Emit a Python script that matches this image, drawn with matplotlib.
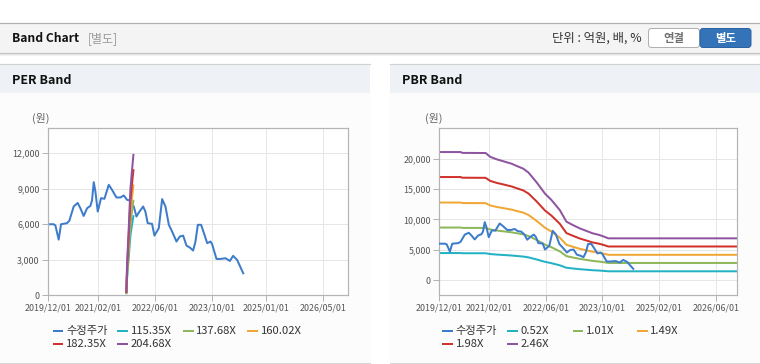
import matplotlib
matplotlib.use("Agg")
import matplotlib.pyplot as plt
import matplotlib.dates as mdates
from matplotlib.patches import Rectangle, FancyBboxPatch
from matplotlib.ticker import FuncFormatter, FixedLocator
import pandas as pd

plt.rcParams['font.family'] = ['Noto Sans CJK KR', 'DejaVu Sans']

# ---------------- data ----------------
price_dates = ['2019-12-01','2020-01-18','2020-02-02','2020-03-01','2020-03-21','2020-05-11','2020-05-31',
               '2020-07-07','2020-08-10','2020-09-02','2020-09-30','2020-10-29','2020-11-26','2020-12-10',
               '2020-12-25','2021-01-08','2021-01-28','2021-02-25','2021-03-26','2021-05-02','2021-05-30',
               '2021-07-06','2021-08-09','2021-09-07','2021-10-05','2021-11-02','2021-12-01','2021-12-24',
               '2022-01-13','2022-02-19','2022-03-10','2022-03-30','2022-05-06','2022-05-26','2022-07-02',
               '2022-07-31','2022-08-28','2022-09-26','2022-10-24','2022-11-30','2022-12-28','2023-01-26',
               '2023-02-23','2023-03-24','2023-04-21','2023-05-11','2023-05-31','2023-06-28','2023-07-27',
               '2023-08-19','2023-09-16','2023-09-30','2023-11-06','2023-12-10','2024-01-22','2024-02-28',
               '2024-03-27','2024-04-30','2024-06-21']
price = [6000,6000,5900,4700,6000,6090,6300,7500,7800,7350,6700,7350,7550,8000,9550,8760,7070,8200,8150,
         9330,8900,8260,8260,8430,8060,8000,7500,6650,6990,7500,7070,6090,6030,5040,5660,8120,7500,5950,
         5380,4540,4960,5040,4200,4030,3780,4540,5950,5950,5100,4400,4540,4310,3070,3070,3130,2900,3330,
         2990,1860]

# PER band (only a short period)
per_band_dates = ['2021-09-29','2021-10-04','2021-10-12','2021-10-21','2021-11-02','2021-11-15','2021-11-28']
per_115 = [175, 1285, 2350, 3432, 5016, 5889, 6684]
per_137 = [209, 1534, 2805, 4097, 5987, 7029, 7978]
per_160 = [242, 1782, 3260, 4761, 6958, 8170, 9272]
per_182 = [276, 2031, 3715, 5426, 7929, 9310, 10566]
per_204 = [310, 2280, 4170, 6090, 8900, 10450, 11860]
per_labels = ['수정주가', '115.35X', '137.68X', '160.02X', '182.35X', '204.68X']

# PBR band
pbr_band_dates = ['2019-12-01','2020-06-01','2020-06-15','2021-01-01','2021-02-10','2021-04-05','2021-06-05',
                  '2021-08-15','2021-09-25','2021-11-20','2022-01-05','2022-03-15','2022-05-25','2022-07-20',
                  '2022-09-30','2022-11-26','2023-01-20','2023-03-20','2023-07-10','2023-09-05','2023-10-15',
                  '2023-11-20','2026-12-01']
pbr_052 = [4458,4458,4428,4424,4291,4207,4135,4048,3974,3881,3741,3403,3014,2790,2437,2033,1917,1801,1628,
           1571,1514,1454,1454]
pbr_101 = [8659,8659,8601,8593,8335,8170,8031,7862,7719,7538,7267,6610,5855,5420,4734,3950,3724,3498,3161,
           3051,2940,2825,2825]
pbr_149 = [12774,12774,12689,12677,12296,12053,11847,11599,11387,11120,10721,9752,8637,7995,6984,5827,5494,
           5160,4664,4500,4337,4167,4167]
pbr_198 = [16975,16975,16862,16846,16339,16017,15743,15413,15132,14778,14246,12959,11478,10624,9280,7743,
           7300,6858,6198,5980,5763,5538,5538]
pbr_246 = [21090,21090,20950,20930,20300,19900,19560,19150,18800,18360,17700,16100,14260,13200,11530,9620,
           9070,8520,7700,7430,7160,6880,6880]
pbr_labels = ['수정주가', '0.52X', '1.01X', '1.49X', '1.98X', '2.46X']

per_xticks = ['2019-12-01','2021-02-01','2022-06-01','2023-10-01','2025-01-01','2026-05-01']
pbr_xticks = ['2019-12-01','2021-02-01','2022-06-01','2023-10-01','2025-02-01','2026-06-01']
per_yticks = [0, 3000, 6000, 9000, 12000]
pbr_yticks = [0, 5000, 10000, 15000, 20000]

colors = ['#3d7ccb', '#22b2c4', '#8db85a', '#f0a733', '#d0322b', '#8f54a0']

# ---------------- figure ----------------
W, H = 760, 364
fig = plt.figure(figsize=(W/100, H/100), dpi=100)
fig.patch.set_facecolor('white')

bg = fig.add_axes([0, 0, 1, 1], zorder=-10)
bg.set_xlim(0, W); bg.set_ylim(H, 0); bg.axis('off')

PX = 0.72  # points per pixel

# top header bar
bg.add_patch(Rectangle((0, 22.5), W, 30.5, fc='#f4f4f4', ec='none'))
bg.plot([0, W], [22.5, 22.5], color='#b0b0b0', lw=1.2*PX)
bg.plot([0, W], [53, 53], color='#c4c4c4', lw=1.2*PX)
bg.plot([0, W], [54.2, 54.2], color='#e4e4e4', lw=1*PX)
bg.plot([0, W], [55.2, 55.2], color='#f2f2f2', lw=1*PX)
bg.text(12, 38.5, 'Band Chart', fontsize=8.7, fontweight='bold', color='#111111', va='center', ha='left')
bg.text(88, 38.5, '[별도]', fontsize=8.6, color='#9a9a9a', va='center', ha='left')
bg.text(642, 38.5, '단위 : 억원, 배, %', fontsize=8.9, color='#333333', va='center', ha='right')
bg.add_patch(FancyBboxPatch((648.5, 28.5), 51, 19, boxstyle='round,pad=0,rounding_size=3',
                            fc='white', ec='#b0b0b0', lw=1*PX))
bg.text(674, 38.5, '연결', fontsize=8.2, fontweight='bold', color='#707070', va='center', ha='center')
bg.add_patch(FancyBboxPatch((700, 28.5), 51, 19, boxstyle='round,pad=0,rounding_size=3',
                            fc='#3573b9', ec='#2d64a3', lw=1*PX))
bg.text(725.5, 38.5, '별도', fontsize=8.2, fontweight='bold', color='white', va='center', ha='center')

# panels
for x0, title in [(0, 'PER Band'), (390, 'PBR Band')]:
    bg.add_patch(Rectangle((x0, 93), 370, 269, fc='#fcfcfc', ec='none'))
    bg.add_patch(Rectangle((x0, 64), 370, 29, fc='#eef2f7', ec='none'))
    bg.plot([x0, x0+370], [64, 64], color='#d2d2d2', lw=1.2*PX)
    bg.plot([x0, x0+370], [362.5, 362.5], color='#d6d6d6', lw=1.2*PX)
    bg.text(x0+12, 80.5, title, fontsize=9, fontweight='bold', color='#111111', va='center', ha='left')

bg.text(32, 118, '(원)', fontsize=7.8, color='#666666', va='center', ha='left')
bg.text(425, 118, '(원)', fontsize=7.8, color='#666666', va='center', ha='left')


def style_axes(ax, xticks, yticks, ylim):
    ax.set_facecolor('white')
    for s in ax.spines.values():
        s.set_color('#b4b4b4')
        s.set_linewidth(1.2*PX)
    ax.set_xlim(pd.Timestamp('2019-12-01'), pd.Timestamp('2026-12-01'))
    ax.set_ylim(*ylim)
    ax.xaxis.set_major_locator(FixedLocator(mdates.date2num(pd.to_datetime(xticks))))
    ax.xaxis.set_major_formatter(mdates.DateFormatter('%Y/%m/%d'))
    ax.set_yticks(yticks)
    ax.yaxis.set_major_formatter(FuncFormatter(lambda v, p: f'{int(v):,}'))
    ax.grid(True, color='#e6e6e6', lw=1*PX)
    ax.set_axisbelow(True)
    ax.tick_params(axis='both', colors='#b4b4b4', labelcolor='#555555', labelsize=6.4,
                   length=4, width=1*PX, pad=2)


def add_legend(labels, x_px):
    col_off = [0, 64.7, 130.3, 194.7]
    for i, (lab, c) in enumerate(zip(labels, colors)):
        x = x_px + col_off[i % 4]
        y = 330.7 + (i // 4) * 13.4
        bg.plot([x, x + 10.5], [y, y], color=c, lw=2*PX, solid_capstyle='butt')
        bg.text(x + 13.3, y + 0.3, lab, fontsize=8.1, color='#333333', va='center', ha='left')


lw = 2*PX
pdates = pd.to_datetime(price_dates)

# PER
ax1 = fig.add_axes([48/W, 1 - 295.3/H, 300/W, 167/H])
style_axes(ax1, per_xticks, per_yticks, (0, 14100))
bdates = pd.to_datetime(per_band_dates)
ax1.plot(pdates, price, color=colors[0], lw=lw)
for c, s in zip(colors[1:], [per_115, per_137, per_160, per_182, per_204]):
    ax1.plot(bdates, s, color=c, lw=lw)
add_legend(per_labels, 52.7)

# PBR
ax2 = fig.add_axes([439.3/W, 1 - 295.3/H, 298/W, 167/H])
style_axes(ax2, pbr_xticks, pbr_yticks, (-2500, 25000))
b2 = pd.to_datetime(pbr_band_dates)
ax2.plot(pdates, price, color=colors[0], lw=lw, zorder=3)
for c, s in zip(colors[1:], [pbr_052, pbr_101, pbr_149, pbr_198, pbr_246]):
    ax2.plot(b2, s, color=c, lw=lw, zorder=2)
add_legend(pbr_labels, 442.3)

fig.savefig('out.png', dpi=100, facecolor='white')
